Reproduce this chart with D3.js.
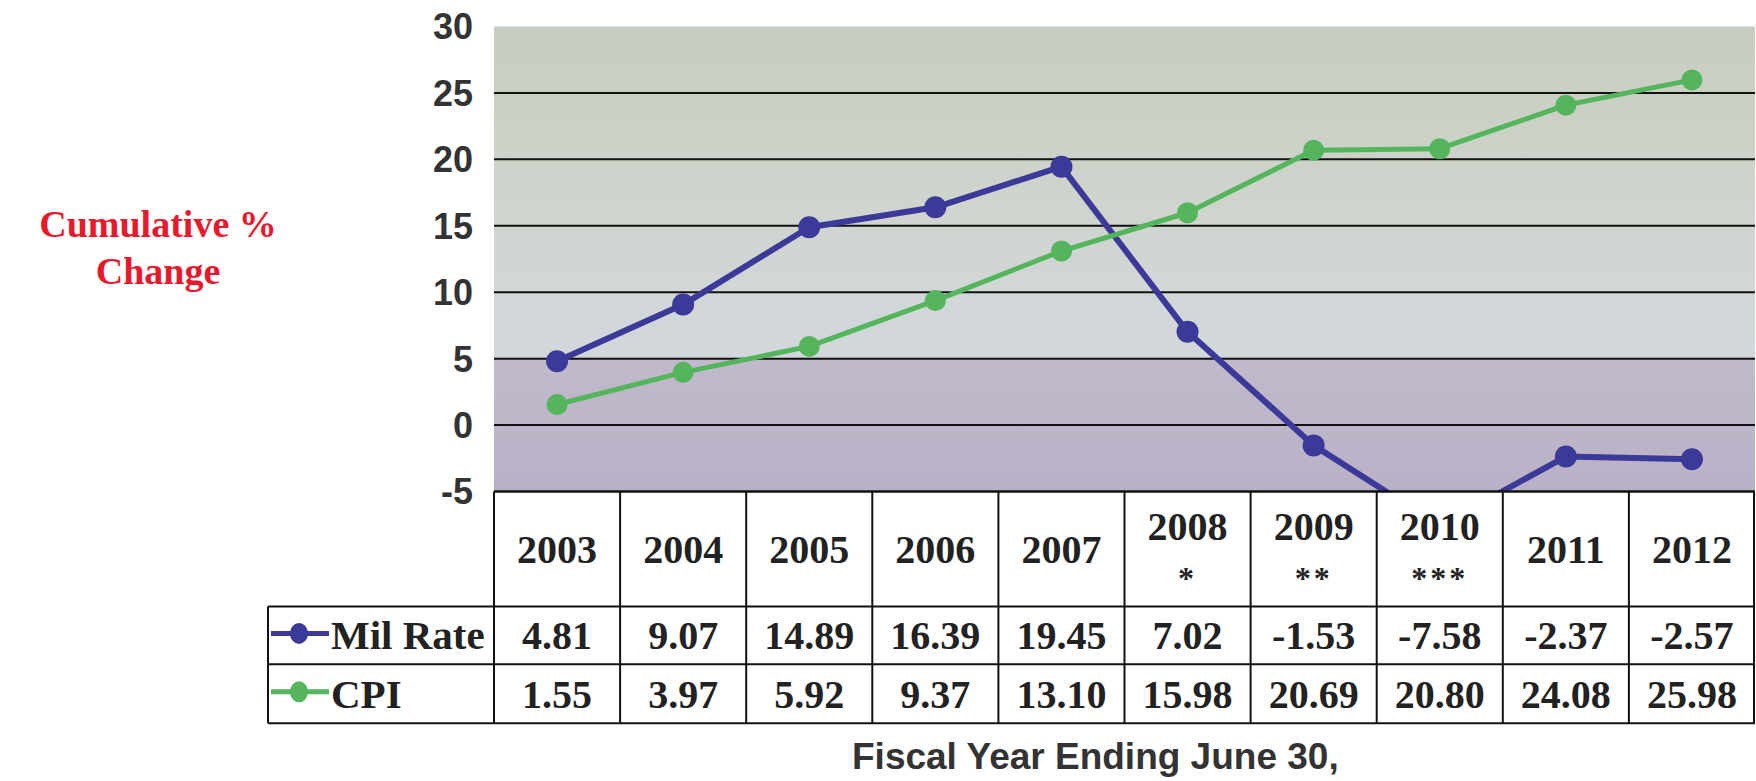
<!DOCTYPE html>
<html>
<head>
<meta charset="utf-8">
<script src="https://cdn.jsdelivr.net/npm/d3@7"></script>
<style>
  html, body { margin: 0; padding: 0; background: #ffffff; }
  svg { display: block; }
</style>
</head>
<body>
<svg id="chart" width="1756" height="781"></svg>
<script>
// Fiscal years (table header) and their footnote marks
const years = ["2003", "2004", "2005", "2006", "2007", "2008", "2009", "2010", "2011", "2012"];
const marks = ["", "", "", "", "", "*", "**", "***", "", ""];

// Cumulative % change per series
const milRate = [4.81, 9.07, 14.89, 16.39, 19.45, 7.02, -1.53, -7.58, -2.37, -2.57];
const cpi = [1.55, 3.97, 5.92, 9.37, 13.10, 15.98, 20.69, 20.80, 24.08, 25.98];

// Y axis ticks
const yTicks = [-5, 0, 5, 10, 15, 20, 25, 30];

const seriesNames = ["Mil Rate", "CPI"];
const seriesColors = ["#3b3a98", "#55b55c"];
const seriesValues = [milRate, cpi];

const svg = d3.select("#chart");

const plotLeft = 494, plotRight = 1755, plotTop = 26.5, plotBottom = 491.5;
const rowH = [115, 57.8, 59];
const labelLeft = 268;

const x = d3.scaleBand().domain(years).range([plotLeft, plotRight]).padding(0);
const y = d3.scaleLinear().domain([-5, 30]).range([plotBottom, plotTop]);

// Plot background gradient
const defs = svg.append("defs");
const grad = defs.append("linearGradient")
  .attr("id", "bg").attr("x1", 0).attr("y1", 0).attr("x2", 0).attr("y2", 1);
[
  [0.00, "#c8cdc1"], [0.18, "#cad0c4"], [0.38, "#cfd4cd"], [0.55, "#d1d6d6"],
  [0.71, "#d2d7dd"], [0.715, "#c1bacb"], [0.85, "#bdb5c8"], [1.00, "#bab1c6"]
].forEach(([o, c]) => grad.append("stop").attr("offset", o).attr("stop-color", c));

defs.append("clipPath").attr("id", "plotClip")
  .append("rect")
  .attr("x", plotLeft).attr("y", plotTop)
  .attr("width", plotRight - plotLeft).attr("height", plotBottom - plotTop);

svg.append("rect")
  .attr("x", plotLeft).attr("y", plotTop)
  .attr("width", plotRight - plotLeft).attr("height", plotBottom - plotTop)
  .attr("fill", "url(#bg)");

// Horizontal gridlines
svg.append("g").selectAll("line")
  .data(yTicks.filter(t => t > -5 && t < 30))
  .join("line")
  .attr("x1", plotLeft).attr("x2", plotRight)
  .attr("y1", d => y(d)).attr("y2", d => y(d))
  .attr("stroke", "#111").attr("stroke-width", 2);

// Y axis labels
svg.append("g").selectAll("text")
  .data(yTicks)
  .join("text")
  .attr("x", 473).attr("y", d => y(d))
  .attr("dy", "0.36em")
  .attr("text-anchor", "end")
  .attr("font-family", "Liberation Sans, Arial, sans-serif")
  .attr("font-weight", "bold")
  .attr("font-size", 36)
  .attr("fill", "#333")
  .text(d => d);

// Y axis title
const yTitle = svg.append("text")
  .attr("text-anchor", "middle")
  .attr("font-family", "Liberation Serif, Times New Roman, serif")
  .attr("font-weight", "bold")
  .attr("font-size", 38)
  .attr("fill", "#e8192c");
yTitle.append("tspan").attr("x", 158).attr("y", 237).text("Cumulative %");
yTitle.append("tspan").attr("x", 158).attr("y", 284).text("Change");

// Series lines and markers
const line = d3.line()
  .x((d, i) => x(years[i]) + x.bandwidth() / 2)
  .y(d => y(d));

const plot = svg.append("g").attr("clip-path", "url(#plotClip)");
seriesValues.forEach((vals, s) => {
  plot.append("path")
    .datum(vals)
    .attr("d", line)
    .attr("fill", "none")
    .attr("stroke", seriesColors[s])
    .attr("stroke-width", s === 0 ? 6 : 5)
    .attr("stroke-linejoin", "round");
  plot.append("g").selectAll("circle")
    .data(vals)
    .join("circle")
    .attr("cx", (d, i) => x(years[i]) + x.bandwidth() / 2)
    .attr("cy", d => y(d))
    .attr("r", s === 0 ? 11 : 10.5)
    .attr("fill", seriesColors[s]);
});

// Data table
const tableTop = plotBottom;
const r1 = tableTop + rowH[0];
const r2 = r1 + rowH[1];
const r3 = r2 + rowH[2];
const table = svg.append("g");
const stroke = "#111";

table.append("line").attr("x1", plotLeft).attr("x2", plotRight).attr("y1", tableTop).attr("y2", tableTop)
  .attr("stroke", stroke).attr("stroke-width", 2.5);
[r1, r2, r3].forEach(yy => table.append("line")
  .attr("x1", labelLeft).attr("x2", plotRight).attr("y1", yy).attr("y2", yy)
  .attr("stroke", stroke).attr("stroke-width", 2));
const colEdges = years.map(yr => x(yr)).concat([plotRight - 1]);
table.selectAll("line.col")
  .data(colEdges)
  .join("line")
  .attr("class", "col")
  .attr("x1", d => d).attr("x2", d => d)
  .attr("y1", tableTop).attr("y2", r3)
  .attr("stroke", stroke).attr("stroke-width", 2);
table.append("line").attr("x1", labelLeft).attr("x2", labelLeft).attr("y1", r1).attr("y2", r3)
  .attr("stroke", stroke).attr("stroke-width", 2);

const serif = "Liberation Serif, Times New Roman, serif";

// Header cells
const header = table.append("g")
  .attr("font-family", serif).attr("font-weight", "bold").attr("font-size", 40)
  .attr("fill", "#222").attr("text-anchor", "middle");
years.forEach((yr, i) => {
  const cx = x(yr) + x.bandwidth() / 2;
  if (marks[i]) {
    header.append("text").attr("x", cx).attr("y", 540).text(yr);
    header.append("text").attr("x", cx).attr("y", 589)
      .attr("font-size", 32).attr("letter-spacing", 3).text(marks[i]);
  } else {
    header.append("text").attr("x", cx).attr("y", 562.5).text(yr);
  }
});

// Value rows
const rowBaselines = [r1 + rowH[1] / 2 + 14, r2 + rowH[2] / 2 + 14];
seriesValues.forEach((vals, s) => {
  table.append("g")
    .attr("font-family", serif).attr("font-weight", "bold").attr("font-size", 40)
    .attr("fill", "#222").attr("text-anchor", "middle")
    .selectAll("text")
    .data(vals)
    .join("text")
    .attr("x", (d, i) => x(years[i]) + x.bandwidth() / 2)
    .attr("y", rowBaselines[s])
    .text(d => d.toFixed(2));

  // Legend key inside the row label cell
  const ky = rowBaselines[s] - 16;
  table.append("line")
    .attr("x1", 271).attr("x2", 329).attr("y1", ky).attr("y2", ky)
    .attr("stroke", seriesColors[s]).attr("stroke-width", 5);
  table.append("ellipse")
    .attr("cx", 299).attr("cy", ky).attr("rx", 9).attr("ry", 10.5)
    .attr("fill", seriesColors[s]);
  table.append("text")
    .attr("x", 331).attr("y", rowBaselines[s])
    .attr("font-family", serif).attr("font-weight", "bold").attr("font-size", 41)
    .attr("fill", "#222")
    .text(seriesNames[s]);
});

// X axis title
svg.append("text")
  .attr("x", 852).attr("y", 769)
  .attr("font-family", "Liberation Sans, Arial, sans-serif")
  .attr("font-weight", "bold")
  .attr("font-size", 37)
  .attr("fill", "#333")
  .text("Fiscal Year Ending June 30,");
</script>
</body>
</html>
